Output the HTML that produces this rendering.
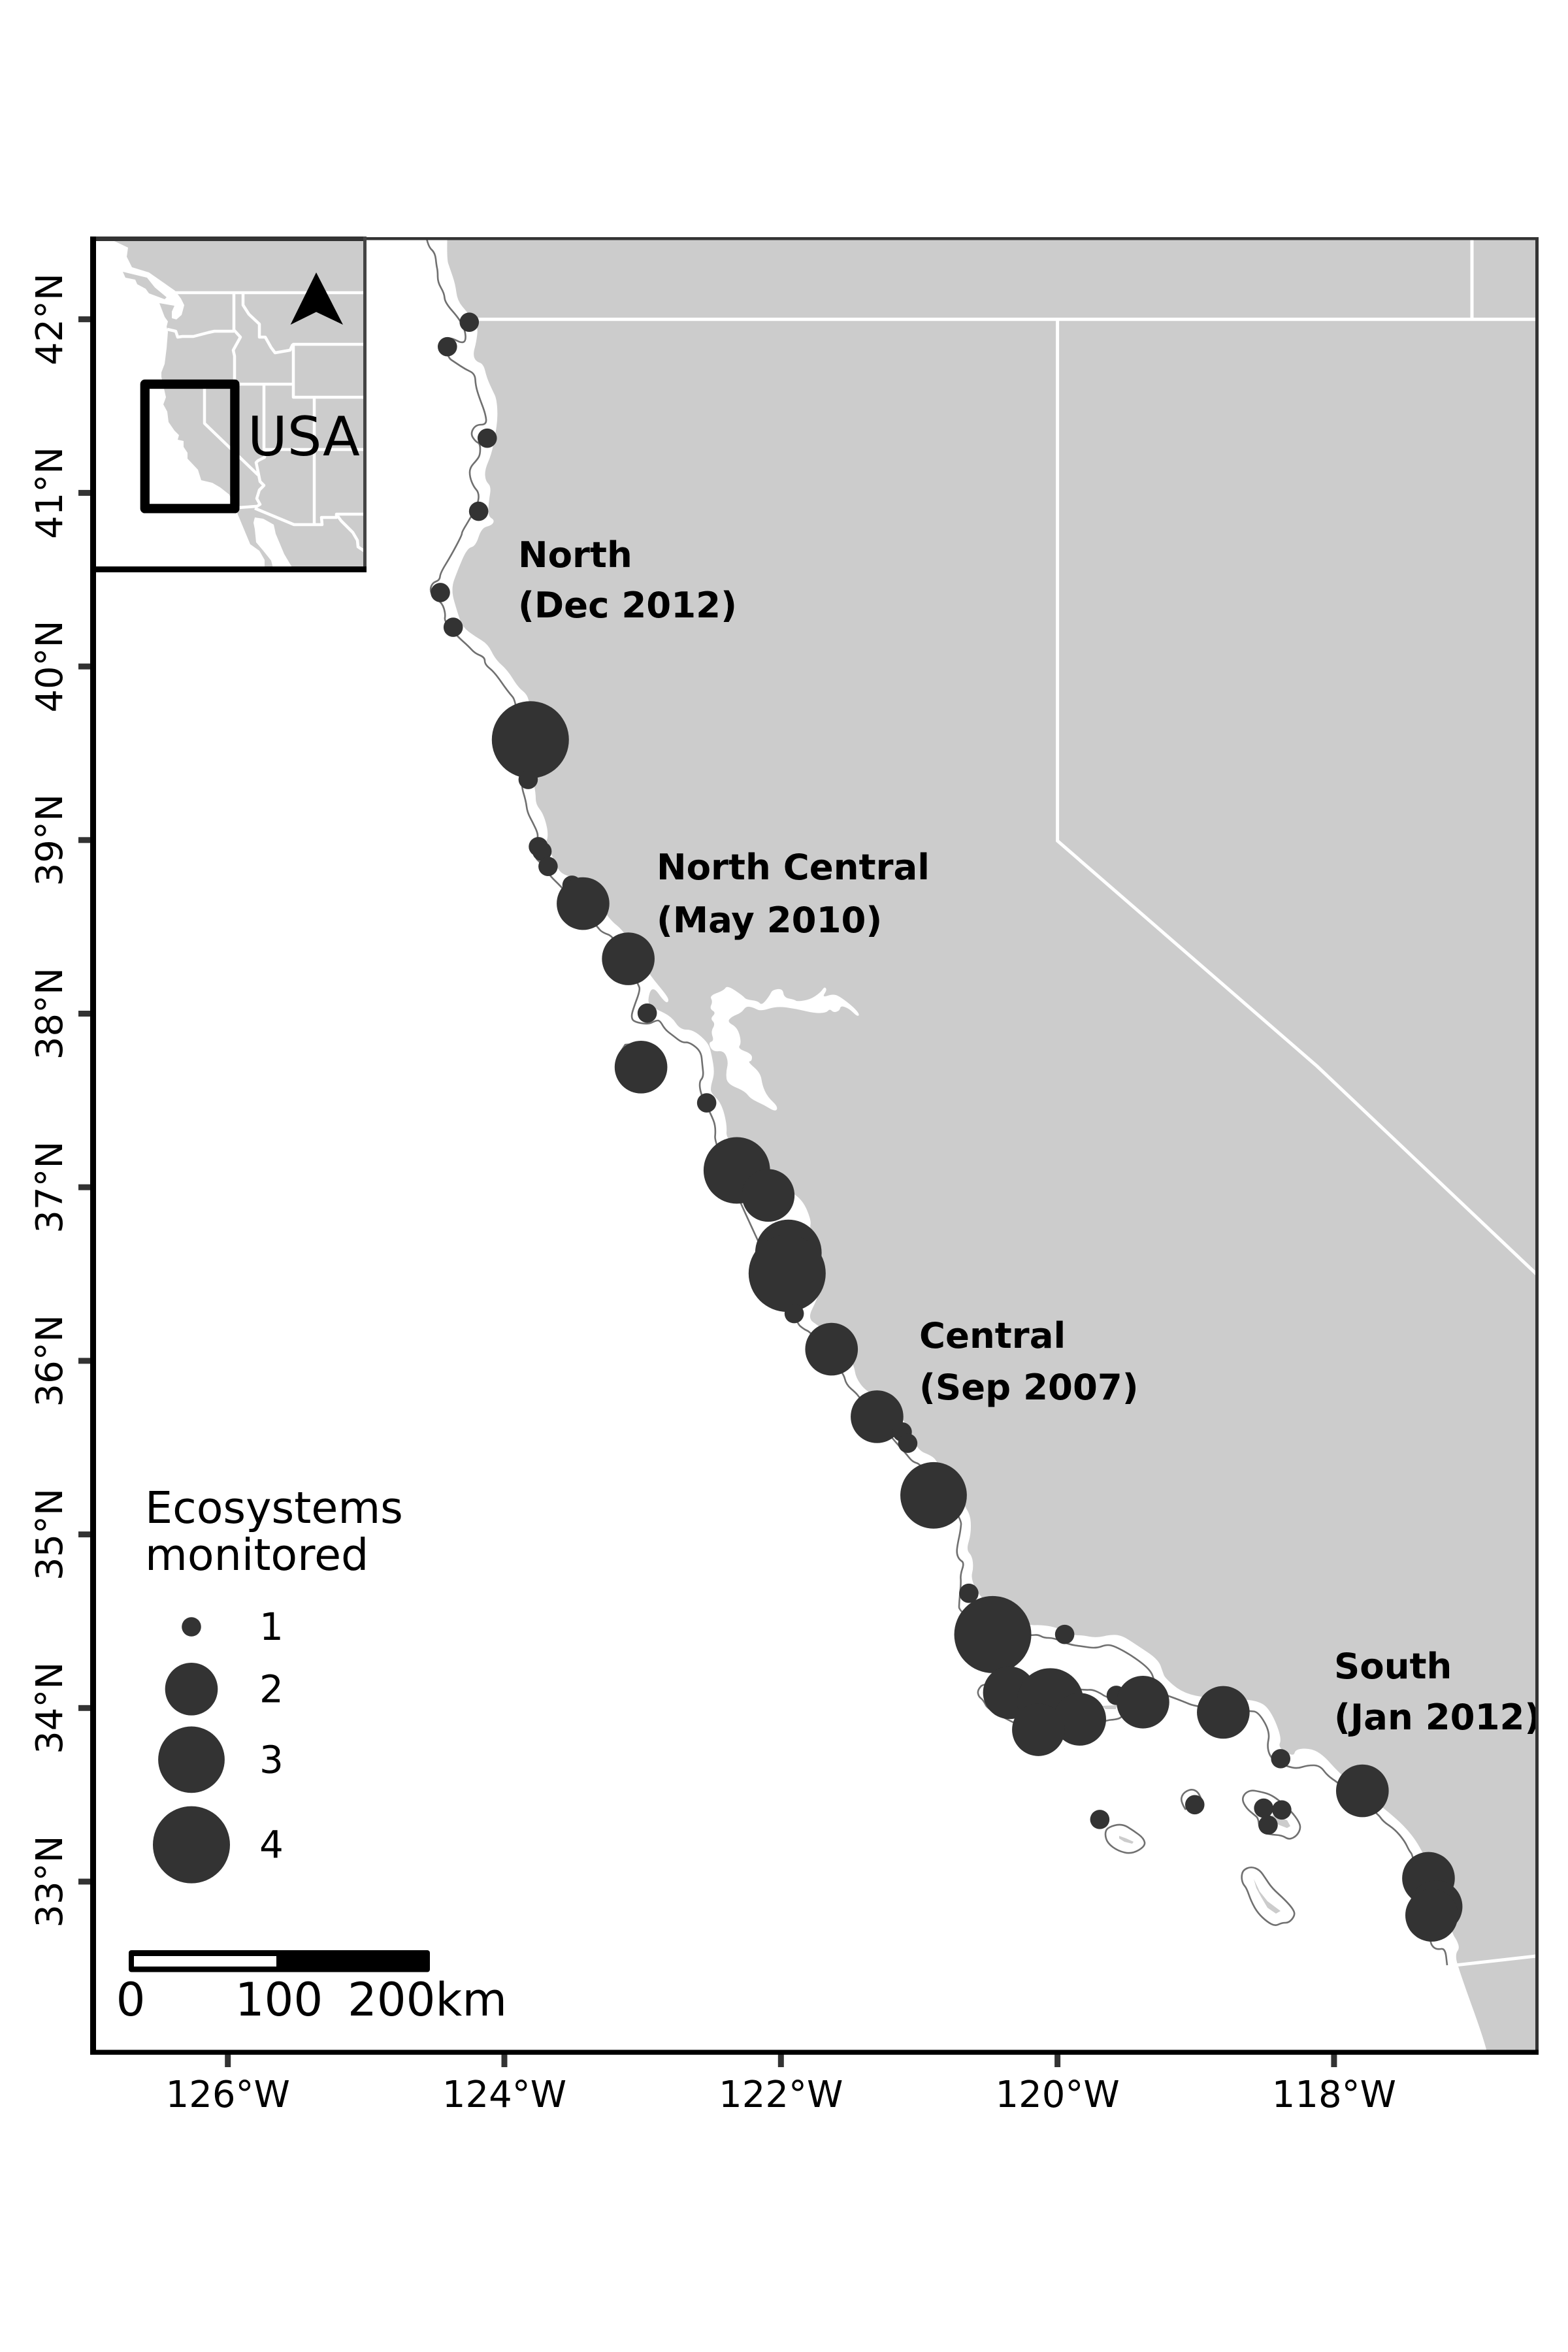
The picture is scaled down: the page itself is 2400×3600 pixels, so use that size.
<!DOCTYPE html>
<html lang="en">
<head>
<meta charset="utf-8">
<title>Ecosystems monitored along the California coast</title>
<style>
html,body{margin:0;padding:0;background:#fff;}
svg{display:block;}
text{font-family:"DejaVu Sans","Liberation Sans",sans-serif;fill:#000;}
.tick{font-size:56px;}
.region{font-size:54.5px;font-weight:bold;}
.leg{font-size:66.6px;}
.legnum{font-size:58px;}
.bar{font-size:70.5px;}
</style>
</head>
<body>
<svg id="chart" xmlns="http://www.w3.org/2000/svg" width="2400" height="3600" viewBox="0 0 2400 3600">
<defs>
<clipPath id="panel-clip"><rect x="147" y="366" width="2204" height="2772"/></clipPath>
<clipPath id="inset-clip"><rect x="147" y="369" width="409" height="498"/></clipPath>
</defs>
<rect x="0" y="0" width="2400" height="3600" fill="#fff"/>

<g id="map-layer" clip-path="url(#panel-clip)">
<path class="smooth" fill="#cccccc" d="M685,340 L684,397 688,409 697,435 700,460 715,478 732,498 729,524 724,542 728,553 740,557 745,578 754,598 760,610 762,638 758,667 752,696 742,719 743,736 752,745 748,768 747,790 757,796 753,804 737,808 728,836 715,839 700,874 690,902 700,937 708,960 727,974 747,986 758,1009 777,1026 793,1052 807,1063 811,1080 815,1190 820,1214 820,1231 832,1246 840,1277 834,1295 844,1306 854,1332 867,1341 890,1344 932,1407 954,1424 975,1460 995,1493 1021,1524 1024,1533 1018,1535 998,1507 990,1536 1003,1544 1028,1556 1041,1576 1061,1576 1084,1596 1089,1613 1094,1642 1088,1662 1088,1673 1104,1688 1113,1722 1111,1745 1160,1780 1204,1820 1229,1837 1242,1869 1239,1880 1255,1930 1263,1952 1250,1990 1236,2018 1254,2030 1290,2060 1307,2089 1310,2109 1325,2129 1355,2145 1383,2170 1403,2219 1428,2229 1435,2239 1460,2280 1479,2308 1486,2323 1486,2349 1479,2372 1488,2382 1490,2400 1486,2415 1497,2441 1530,2470 1577,2488 1590,2487 1615,2490 1643,2503 1657,2503 1678,2507 1700,2502 1717,2503 1740,2518 1773,2540 1780,2560 1783,2568 1807,2589 1838,2598 1880,2600 1929,2603 1947,2622 1962,2661 1956,2675 1980,2689 1983,2677 2007,2676 2026,2687 2047,2711 2080,2740 2119,2768 2155,2800 2178,2834 2205,2900 2223,2960 2230,2970 2234,2982 2228,2990 2230,3007 2277,3137 2280,3170 2900,3170 2900,-500 685,-500 Z"/>
<path class="smooth" fill="#fff" d="M1086,1524 L1108,1516 1113,1508 1137,1524 1142,1530 1160,1532 1166,1539 1178,1524 1182,1515 1198,1513 1200,1527 1216,1530 1220,1533 1240,1530 1256,1519 1262,1510 1266,1515 1258,1527 1276,1521 1288,1527 1307,1542 1316,1553 1312,1556 1300,1544 1287,1539 1285,1547 1276,1550 1270,1544 1265,1550 1247,1551 1218,1544 1189,1540 1164,1548 1153,1542 1142,1540 1135,1550 1120,1556 1113,1564 1129,1573 1135,1596 1129,1605 1151,1613 1151,1624 1144,1625 1164,1642 1167,1662 1175,1679 1191,1694 1187,1702 1169,1691 1149,1682 1140,1670 1113,1659 1111,1642 1115,1625 1108,1608 1091,1610 1084,1596 1093,1593 1088,1579 1095,1567 1087,1559 1096,1550 1086,1544 1091,1533 Z"/>
<g fill="none" stroke="#fff" stroke-width="5">
<path d="M728,488.7 H2360"/>
<path d="M2253,360 V488.7"/>
<path d="M1618.6,488.7 V1287 L2016,1632 L2360,1958"/>
<path d="M2230,3007.7 L2360,2993"/>
</g>
<g fill="none" stroke="#707070" stroke-width="2.6" stroke-linejoin="round">
<path class="smooth" d="M652,360 L655,377 666,387 668,406 670,415 670,432 680,449 681,463 703,488 712,506 713,522 706,525 693,518 680,517 685,547 697,555 712,565 727,572 728,590 733,607 743,633 745,650 728,650 720,664 728,676 735,679 735,696 730,704 719,716 719,730 725,745 733,754 732,770 720,793 707,814 707,819 690,851 674,877 673,888 662,892 658,903 663,914 677,923 682,940 680,951 700,974 717,989 727,1000 742,1006 742,1017 757,1029 777,1058 792,1075 797,1200 805,1226 807,1243 816,1260 823,1275 823,1283 818,1312 827,1320 843,1342 858,1356 914,1418 921,1427 941,1434 977,1507 980,1515 970,1542 966,1556 970,1564 992,1568 1004,1562 1010,1562 1018,1576 1030,1585 1044,1596 1055,1595 1073,1609 1075,1630 1077,1648 1070,1656 1073,1676 1088,1705 1096,1725 1093,1754 1218,2024 1231,2035 1241,2039 1291,2101 1295,2119 1310,2132 1314,2137 1366,2202 1386,2224 1397,2238 1410,2241 1472,2323 1470,2344 1466,2362 1464,2377 1468,2387 1476,2392 1470,2410 1471,2423 1468,2454 1468,2466 1520,2503 1579,2503 1589,2502 1598,2507 1613,2507 1636,2517 1656,2520 1678,2523 1694,2517 1707,2520 1734,2535 1761,2556 1767,2573 1772,2590 1789,2596 1808,2603 1832,2613 1912,2619 1926,2620 1944,2651 1939,2675 1947,2694 1971,2704 1986,2707 2001,2702 2020,2702 2032,2718 2047,2728 2109,2776 2117,2788 2135,2800 2150,2818 2157,2833 2163,2840 2189,2972 2193,2980 2200,2984 2212,2982 2215,3008"/>
<path class="smooth" d="M1507,2575 L1496,2587 1498,2597 1505,2602 1513,2618 1600,2660 1693,2633 1707,2632 1717,2629 1730,2610 1692,2597 1685,2592 1672,2586 1660,2587 1600,2580 Z"/>
<path d="M948,1613 L957,1599 968,1598"/>
<path class="smooth" d="M1691,2807 L1695,2797 1717,2791 1735,2802 1751,2814 1753,2826 1732,2838 1711,2833 1695,2821 Z"/>
<path class="smooth" d="M1815,2770 L1807,2758 1810,2745 1823,2738 1833,2742 1838,2752"/>
<path class="smooth" d="M1920,2778 L1908,2768 1901,2755 1905,2745 1915,2740 1927,2742 1943,2746 1957,2755 1977,2773 1988,2788 1991,2798 1985,2810 1973,2816 1962,2809 1943,2808 1928,2802 1926,2783 Z"/>
<path class="smooth" d="M1900,2872 L1903,2862 1915,2857 1928,2862 1937,2875 1947,2890 1967,2908 1980,2923 1982,2932 1973,2943 1962,2943 1952,2948 1940,2942 1925,2928 1915,2910 1908,2890 1902,2883 Z"/>
</g>
<g fill="#cccccc">
<path d="M1687,2611 L1710,2610 1708,2616 1692,2616 Z"/>
<path d="M1713,2810 L1724,2814 1735,2819 1733,2822 1721,2819 1713,2814 Z"/>
<path d="M1947,2778 L1970,2786 1975,2795 1970,2798 1957,2793 1948,2785 Z"/>
<path d="M1919,2876 L1928,2895 1940,2910 1960,2925 1953,2929 1940,2920 1930,2903 1923,2890 Z"/>
</g>
<g id="sites"></g>
</g>

<text class="region" x="793" y="868">North</text>
<text class="region" x="793" y="945">(Dec 2012)</text>
<text class="region" x="1005" y="1346">North Central</text>
<text class="region" x="1005" y="1427">(May 2010)</text>
<text class="region" x="1407" y="2063">Central</text>
<text class="region" x="1407" y="2142">(Sep 2007)</text>
<text class="region" x="2042" y="2569">South</text>
<text class="region" x="2042" y="2647">(Jan 2012)</text>

<g>
<rect x="147" y="369" width="409" height="498" fill="#fff"/>
<g clip-path="url(#inset-clip)">
<path fill="#cccccc" d="M175,369 L196,379 194,393 202,409 228,417 268,445 277,457 282,467 278,482 270,489 263,487 263,477 267,468 244,464 252,485 257,492 255,500 257,508 255,533 252,557 247,570 247,577 254,608 250,619 256,630 258,646 267,659 274,666 272,673 281,675 281,684 287,693 287,702 303,719 308,735 325,739 337,746 351,757 363,785 383,833 397,843 405,857 405,870 560,870 560,365 175,365 Z"/>
<path fill="#cccccc" d="M188,416 L225,425 237,440 255,455 252,458 228,449 223,442 210,435 207,428 192,425 Z"/>
<path fill="#fff" d="M390,792 L403,794 419,803 422,817 435,848 448,870 418,870 415,858 403,843 392,830 390,810 388,800 Z"/>
<g fill="none" stroke="#fff" stroke-width="4.5" stroke-linejoin="round">
<path d="M267,448 H556"/>
<path d="M358,448 V505 L368,516 357,536 359,545 V588"/>
<path d="M256,504 L269,507 272,516 279,515 296,515 319,509 328,507 358,507"/>
<path d="M372,448 V467 L381,481 397,496 397,516 406,516 415,532 421,540 444,536 448,527"/>
<path d="M556,527 H449 V608 H556"/>
<path d="M252,588 H449"/>
<path d="M404,590 V688 H556"/>
<path d="M481,608 V802"/>
<path d="M313,590 V648 L395,727"/>
<path d="M406,687 L405,700 395,705 392,708 395,722 398,737 404,743 397,750 393,763 398,772 390,777"/>
<path d="M365,777 L392,775"/>
<path d="M390,778 L450,803 493,803 492,792 515,792 515,787 557,787"/>
<path d="M517,790 L522,797 540,815 547,827 548,837 557,843"/>
</g>
</g>
<rect x="221.8" y="588" width="137.6" height="190.4" fill="none" stroke="#000" stroke-width="14.3" stroke-linejoin="round"/>
<path fill="#000" d="M484,417 L525,497 484,477.5 444.6,497 Z"/>
<text x="379" y="697" style="font-size:83px">USA</text>
</g>

<g>
<rect x="197" y="2985" width="461" height="33.5" rx="4" fill="#000"/>
<rect x="205" y="2994" width="218" height="16" fill="#fff"/>
<text class="bar" x="200" y="3085" text-anchor="middle">0</text>
<text class="bar" x="427" y="3085" text-anchor="middle">100</text>
<text class="bar" x="654" y="3085" text-anchor="middle">200km</text>
</g>

<g id="legend">
<text class="leg" x="222" y="2331">Ecosystems</text>
<text class="leg" x="222" y="2403">monitored</text>
</g>

<g id="axes">
<rect x="138" y="363" width="2217" height="4.5" fill="#333"/>
<rect x="138" y="362" width="423" height="7" fill="#333"/>
<rect x="2350" y="363" width="5" height="2782" fill="#333"/>
<rect x="556" y="362" width="5" height="514" fill="#444"/>
<rect x="138" y="867" width="423" height="9" fill="#000"/>
<rect x="138" y="362" width="9" height="2783" fill="#000"/>
<rect x="138" y="3137.5" width="2217" height="7.5" fill="#000"/>
</g>
</svg>
<script>
// Monitoring sites (longitude, latitude, ecosystems monitored)
var siteLon = [-124.254,-124.412,-124.124,-124.186,-124.463,-124.370,-123.812,-123.828,-123.754,-123.728,-123.684,-123.511,-123.431,-123.104,-122.967,-123.012,-122.537,-122.319,-122.092,-121.946,-121.955,-121.904,-121.634,-121.305,-121.123,-121.083,-120.896,-120.641,-120.468,-119.948,-120.348,-120.052,-119.839,-120.138,-119.575,-119.382,-118.801,-118.386,-117.795,-117.317,-117.262,-117.294,-119.694,-119.007,-118.509,-118.378,-118.477];
var siteLat = [41.983,41.842,41.315,40.894,40.426,40.226,39.578,39.349,38.962,38.935,38.848,38.74,38.634,38.316,38.003,37.692,37.486,37.097,36.953,36.622,36.504,36.272,36.067,35.678,35.59,35.525,35.225,34.661,34.423,34.424,34.088,34.038,33.935,33.875,34.073,34.034,33.975,33.708,33.523,33.019,32.856,32.806,33.358,33.443,33.423,33.413,33.326];
var siteEcosystems = [1,1,1,1,1,1,4,1,1,1,1,1,2,2,1,2,1,3,2,3,4,1,2,2,1,1,3,1,4,1,2,3,2,2,1,2,2,1,2,2,2,2,1,1,1,1,1];
var lonTicks = [-126,-124,-122,-120,-118];
var latTicks = [42,41,40,39,38,37,36,35,34,33];
var legendValues = [1,2,3,4];

var SVG_NS = 'http://www.w3.org/2000/svg';
function xScale(lon){ return 348.7 + (lon + 126) * 211.65; }
function yScale(lat){ return 488.7 + (42 - lat) * 265.7; }
function rScale(v){ return 14.8 + 44.2 * Math.sqrt((v - 1) / 3); }
function svgEl(tag, attrs, parent){
  var el = document.createElementNS(SVG_NS, tag);
  for (var k in attrs) { el.setAttribute(k, attrs[k]); }
  parent.appendChild(el);
  return el;
}

// Round off the hand-traced geography so coast and island outlines read as smooth curves
Array.prototype.forEach.call(document.querySelectorAll('path.smooth'), function(p){
  var d = p.getAttribute('d');
  var closed = /Z\s*$/.test(d);
  var n = d.match(/-?[\d.]+/g).map(Number);
  var pts = [];
  for (var i = 0; i + 1 < n.length; i += 2) { pts.push([n[i], n[i + 1]]); }
  var out;
  if (closed) {
    var last = pts[pts.length - 1];
    out = 'M' + (last[0] + pts[0][0]) / 2 + ',' + (last[1] + pts[0][1]) / 2;
    pts.forEach(function(pt, j){
      var nx = pts[(j + 1) % pts.length];
      out += ' Q' + pt[0] + ',' + pt[1] + ' ' + (pt[0] + nx[0]) / 2 + ',' + (pt[1] + nx[1]) / 2;
    });
    out += ' Z';
  } else {
    out = 'M' + pts[0][0] + ',' + pts[0][1];
    for (var j = 1; j < pts.length - 1; j++) {
      out += ' Q' + pts[j][0] + ',' + pts[j][1] + ' ' + (pts[j][0] + pts[j + 1][0]) / 2 + ',' + (pts[j][1] + pts[j + 1][1]) / 2;
    }
    out += ' L' + pts[pts.length - 1][0] + ',' + pts[pts.length - 1][1];
  }
  p.setAttribute('d', out);
});

var sitesGroup = document.getElementById('sites');
siteLon.forEach(function(lon, i){
  var c = svgEl('circle', {cx: xScale(lon), cy: yScale(siteLat[i]), r: rScale(siteEcosystems[i]), fill: '#333333'}, sitesGroup);
  
  
});

var axes = document.getElementById('axes');
lonTicks.forEach(function(lon){
  var x = xScale(lon);
  var t = svgEl('rect', {x: x - 4.5, y: 3145, width: 9, height: 19, fill: '#333'}, axes);
  
  
  var l = svgEl('text', {x: x, y: 3225, 'text-anchor': 'middle', 'class': 'tick'}, axes);
  l.textContent = Math.abs(lon) + '°W';
  
  
});
latTicks.forEach(function(lat){
  var y = yScale(lat);
  var t = svgEl('rect', {x: 120, y: y - 4.5, width: 18, height: 9, fill: '#333'}, axes);
  
  
  var l = svgEl('text', {x: 0, y: 0, 'text-anchor': 'middle', 'class': 'tick', transform: 'translate(95,' + y + ') rotate(-90)'}, axes);
  l.textContent = lat + '°N';
  
  
});

var legend = document.getElementById('legend');
var legendTop = 2442.5;
legendValues.forEach(function(v){
  var r = rScale(v);
  var rowH = Math.max(95, 2.37 * r);
  var cy = legendTop + rowH / 2;
  var c = svgEl('circle', {cx: 293, cy: cy, r: r, fill: '#333333'}, legend);
  
  
  var l = svgEl('text', {x: 397, y: cy + 20, 'class': 'legnum'}, legend);
  l.textContent = v;
  
  
  legendTop += rowH;
});
</script>
</body>
</html>
